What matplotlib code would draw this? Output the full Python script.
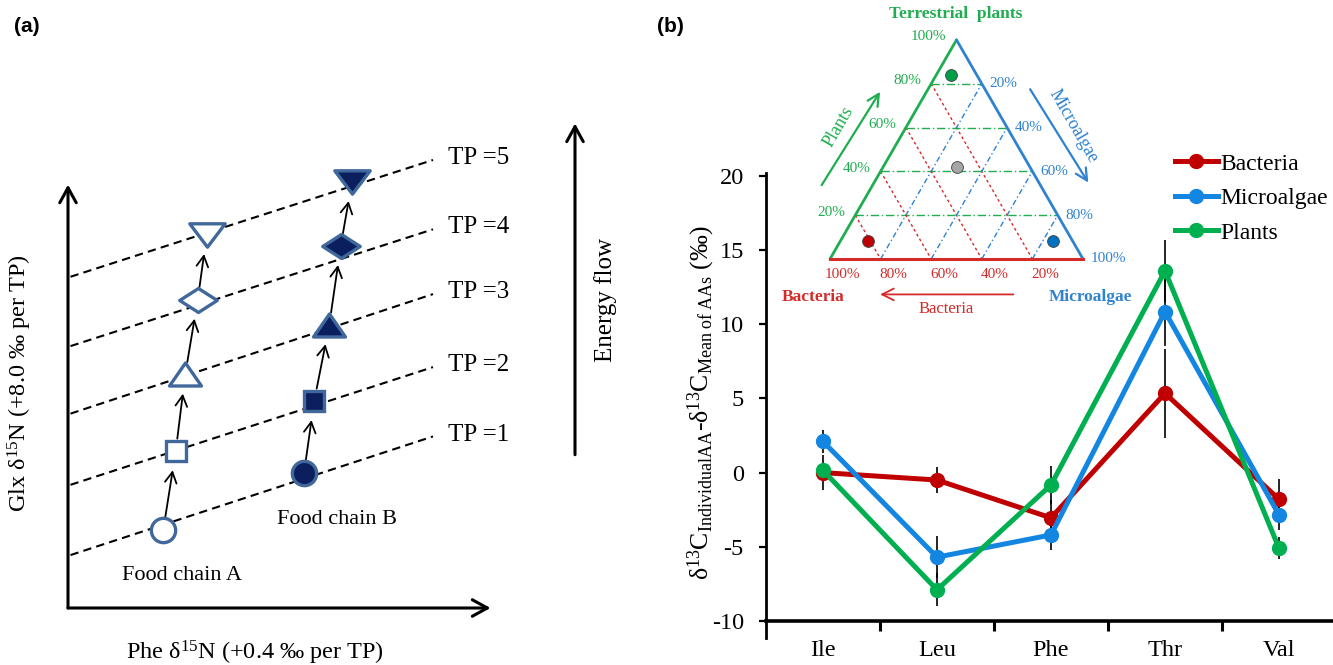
import matplotlib
matplotlib.use("Agg")
import matplotlib.pyplot as plt
from matplotlib.path import Path
import numpy as np

plt.rcParams['font.family'] = ['Liberation Serif', 'DejaVu Serif']
plt.rcParams['mathtext.fontset'] = 'custom'
plt.rcParams['mathtext.rm'] = 'Liberation Serif'
plt.rcParams['mathtext.it'] = 'Liberation Serif:italic'
plt.rcParams['axes.unicode_minus'] = False

# ---------------- data: panel (a) schematic ----------------
tp_levels = [1, 2, 3, 4, 5]
iso_phe = [0.1, 14.6]                       # start / end of isolines
iso_glx_start = [5.8, 13.5, 21.3, 28.7, 36.3]
iso_glx_end = [18.8, 26.4, 34.4, 41.5, 49.1]

chainA_phe = [3.81, 4.31, 4.69, 5.19, 5.55]
chainA_glx = [8.55, 17.2, 25.6, 33.8, 40.9]
chainB_phe = [9.44, 9.85, 10.45, 10.91, 11.36]
chainB_glx = [14.8, 22.7, 31.0, 39.7, 46.7]

# ---------------- data: panel (b) ----------------
amino = ['Ile', 'Leu', 'Phe', 'Thr', 'Val']
bacteria = [0.0, -0.5, -3.05, 5.35, -1.8]
microalgae = [2.1, -5.7, -4.2, 10.85, -2.85]
plants = [0.15, -7.9, -0.83, 13.6, -5.1]
bacteria_err = [1.2, 0.9, 1.2, 3.0, 1.35]
microalgae_err = [0.8, 1.4, 1.0, 2.3, 1.0]
plants_err = [0.5, 1.1, 1.3, 2.1, 0.75]
yticks_b = [-10, -5, 0, 5, 10, 15, 20]

# ternary inset: fractions (bacteria, microalgae, plants)
tern_bac = [0.81, 0.08, 0.10, 0.29]
tern_mic = [0.11, 0.84, 0.06, 0.29]
tern_pla = [0.08, 0.08, 0.84, 0.42]
tern_col = ['#c00000', '#0070c0', '#00a046', '#a6a6a6']
grid_levels = [0.2, 0.4, 0.6, 0.8]

red = '#c00000'
blue = '#1386e2'
green = '#00b050'
t_red = '#d42a2a'
t_blue = '#2f82d0'
t_green = '#1fae4f'

W, H = 1333, 665
fig = plt.figure(figsize=(W / 100, H / 100), dpi=100)

# =============== panel (a) ===============
ax_a = fig.add_axes([0, 0, 660 / W, 1])
ax_a.set_xlim(-68 / 25, (660 - 68) / 25)
ax_a.set_ylim((608 - 665) / 9.125, 608 / 9.125)
ax_a.axis('off')

axis_kw = dict(arrowstyle='->,head_length=0.6,head_width=0.33', lw=2.2,
               color='k', shrinkA=0, shrinkB=0, mutation_scale=18)
ax_a.annotate('', xy=(0, 46.4), xytext=(0, 0), arrowprops=axis_kw)
ax_a.annotate('', xy=(16.9, 0), xytext=(0, 0), arrowprops=axis_kw)
ax_a.annotate('', xy=(20.28, 53.1), xytext=(20.28, 16.8), arrowprops=axis_kw)

for tp, g0, g1 in zip(tp_levels, iso_glx_start, iso_glx_end):
    ln, = ax_a.plot(iso_phe, [g0, g1], color='k', lw=1.5, zorder=1)
    ln.set_dashes((4, 2.5))
    ax_a.text(15.2, g1 + 0.2, f'TP ={tp}', fontsize=18, ha='left', va='center')

def poly_marker(verts):
    verts = verts + [verts[0]]
    return Path(verts, closed=True)

m_tri_up = poly_marker([(-1, -0.72), (1, -0.72), (0, 0.72)])
m_tri_dn = poly_marker([(-1, 0.66), (1, 0.66), (0, -0.66)])
m_diam = poly_marker([(-1, 0), (0, 0.64), (1, 0), (0, -0.64)])
marker_set = [('o', 17.5), ('s', 14.5), (m_tri_up, 23), (m_diam, 27), (m_tri_dn, 25.5)]

edge_c = '#41689b'
navy = '#0b1f5e'
for xs, ys, face in [(chainA_phe, chainA_glx, 'white'), (chainB_phe, chainB_glx, navy)]:
    for k in range(len(xs)):
        mk, ms = marker_set[k]
        ax_a.plot(xs[k], ys[k], marker=mk, ms=ms, mfc=face, mec=edge_c,
                  mew=2.4, ls='none', zorder=3, clip_on=False)
    for k in range(len(xs) - 1):
        ax_a.annotate('', xy=(xs[k + 1], ys[k + 1]), xytext=(xs[k], ys[k]),
                      arrowprops=dict(arrowstyle='->,head_length=0.55,head_width=0.3',
                                      lw=1.3, color='k', shrinkA=9, shrinkB=14,
                                      mutation_scale=14), zorder=2)

ax_a.text(4.56, 3.6, 'Food chain A', fontsize=16, ha='center', va='center')
ax_a.text(10.75, 9.7, 'Food chain B', fontsize=16, ha='center', va='center')
ax_a.text(7.48, -4.93, 'Phe δ$^{15}$N (+0.4 ‰ per TP)', fontsize=17.5,
          ha='center', va='center')
ax_a.text(-1.92, 24.66, 'Glx δ$^{15}$N (+8.0 ‰ per TP)', fontsize=17.5,
          ha='center', va='center', rotation=90)
ax_a.text(21.52, 33.75, 'Energy flow', fontsize=18, ha='center', va='center',
          rotation=90)

fig.text(26.7 / W, 1 - 26.7 / H, '(a)', fontsize=15, fontweight='bold',
         family='Liberation Sans', ha='center', va='center')
fig.text(670 / W, 1 - 27 / H, '(b)', fontsize=15, fontweight='bold',
         family='Liberation Sans', ha='center', va='center')

# =============== panel (b) ===============
ax_b = fig.add_axes([766 / W, (H - 638) / H, 570 / W, (638 - 173) / H])
xpos = np.arange(len(amino))
for vals, errs, col, name in [(bacteria, bacteria_err, red, 'Bacteria'),
                              (microalgae, microalgae_err, blue, 'Microalgae'),
                              (plants, plants_err, green, 'Plants')]:
    ax_b.errorbar(xpos, vals, yerr=errs, fmt='none', ecolor='k',
                  elinewidth=1.2, capsize=0, zorder=2)
    ax_b.plot(xpos, vals, '-o', color=col, lw=3.6, ms=10, zorder=3, label=name)

ax_b.set_xlim(-0.5, 4.5)
ax_b.set_ylim(-11.15, 20.2)
ax_b.spines[['top', 'right']].set_visible(False)
ax_b.spines['bottom'].set_position(('data', -10))
ax_b.spines['bottom'].set_linewidth(2.6)
ax_b.spines['left'].set_linewidth(2.0)
ax_b.set_xticks(xpos[:-1] + 0.5)
ax_b.set_xticklabels([])
ax_b.set_xticks(xpos, minor=True)
ax_b.set_xticklabels(amino, minor=True, fontsize=17.5)
ax_b.tick_params(axis='x', which='major', length=7, width=2.2, direction='out')
ax_b.tick_params(axis='x', which='minor', length=0, pad=14)
ax_b.set_yticks(yticks_b, labels=[str(v) for v in yticks_b], fontsize=17.5)
ax_b.tick_params(axis='y', length=5, width=1.6, pad=11)

fig.text(701 / W, 1 - 403 / H,
         'δ$^{13}$C$_{\\mathrm{IndividualAA}}$-δ$^{13}$C$_{\\mathrm{Mean\\ of\\ AAs}}$ (‰)',
         fontsize=18.5, rotation=90, ha='center', va='center')

ax_b.legend(loc='upper left', bbox_to_anchor=(1175 / W, 1 - 153 / H),
            bbox_transform=fig.transFigure, frameon=False, fontsize=17,
            borderpad=0, borderaxespad=0, handlelength=1.82,
            handletextpad=0.1, labelspacing=0.55)

# =============== ternary inset ===============
S = 253.0
ax_t = fig.add_axes([760 / W, (H - 320) / H, 370 / W, 320 / H])
ax_t.set_xlim(-70 / S, 300 / S)
ax_t.set_ylim((259 - 320) / S, 259 / S)
ax_t.axis('off')
ax_t.patch.set_alpha(0)
ax_t.set_zorder(5)

r3 = np.sqrt(3) / 2

def txy(b, m, p):
    return m + p / 2, p * r3

for lv in grid_levels:
    # plants = const (green), bacteria = const (red), microalgae = const (blue)
    x0, y0 = txy(1 - lv, 0, lv)
    x1, y1 = txy(0, 1 - lv, lv)
    ln, = ax_t.plot([x0, x1], [y0, y1], color=t_green, lw=1.0)
    ln.set_dashes((6, 2, 1, 2))
    x0, y0 = txy(lv, 0, 1 - lv)
    x1, y1 = txy(lv, 1 - lv, 0)
    ln, = ax_t.plot([x0, x1], [y0, y1], color=t_red, lw=1.0)
    ln.set_dashes((2, 2))
    x0, y0 = txy(1 - lv, lv, 0)
    x1, y1 = txy(0, lv, 1 - lv)
    ln, = ax_t.plot([x0, x1], [y0, y1], color=t_blue, lw=1.0)
    ln.set_dashes((4, 2, 1, 2))

ax_t.plot([0, 0.5], [0, r3], color=t_green, lw=2.0, solid_capstyle='round')
ax_t.plot([0.5, 1], [r3, 0], color=t_blue, lw=2.0, solid_capstyle='round')
ax_t.plot([0, 1], [0, 0], color=t_red, lw=2.2)

for b, m, p, c in zip(tern_bac, tern_mic, tern_pla, tern_col):
    x, y = txy(b, m, p)
    ax_t.plot(x, y, 'o', ms=8.5, mfc=c, mec='#404040', mew=0.6, zorder=6)

for lv in grid_levels + [1.0]:
    pct = f'{int(round(lv * 100))}%'
    x, y = txy(1 - lv, 0, lv)
    ax_t.text(x - 0.04, y + 0.012, pct, color=t_green, fontsize=11,
              ha='right', va='center')
    x, y = txy(0, lv, 1 - lv)
    ax_t.text(x + 0.03, y, pct, color=t_blue, fontsize=11, ha='left', va='center')
    x, y = txy(lv, 1 - lv, 0)
    ax_t.text(x + 0.05, -0.06, pct, color=t_red, fontsize=11,
              ha='center', va='center')

ax_t.text(0.497, 0.968, 'Terrestrial  plants', color=t_green, fontsize=12.5,
          fontweight='bold', ha='center', va='center')
ax_t.text(-0.066, -0.149, 'Bacteria', color=t_red, fontsize=12.5,
          fontweight='bold', ha='center', va='center')
ax_t.text(1.031, -0.149, 'Microalgae', color=t_blue, fontsize=12.5,
          fontweight='bold', ha='center', va='center')
ax_t.text(0.461, -0.198, 'Bacteria', color=t_red, fontsize=12,
          ha='center', va='center')
ax_t.text(0.033, 0.523, 'Plants', color=t_green, fontsize=13,
          ha='center', va='center', rotation=60)
ax_t.text(0.962, 0.523, 'Microalgae', color=t_blue, fontsize=13,
          ha='center', va='center', rotation=-60)

small_arrow = '->,head_length=0.7,head_width=0.35'
ax_t.annotate('', xy=(0.198, -0.14), xytext=(0.725, -0.14),
              arrowprops=dict(arrowstyle=small_arrow, color=t_red, lw=1.3,
                              shrinkA=0, shrinkB=0, mutation_scale=12))
ax_t.annotate('', xy=(0.198, 0.661), xytext=(-0.033, 0.292),
              arrowprops=dict(arrowstyle=small_arrow, color=t_green, lw=1.6,
                              shrinkA=0, shrinkB=0, mutation_scale=12))
ax_t.annotate('', xy=(1.021, 0.302), xytext=(0.791, 0.671),
              arrowprops=dict(arrowstyle=small_arrow, color=t_blue, lw=1.6,
                              shrinkA=0, shrinkB=0, mutation_scale=12))

fig.savefig('out.png', dpi=100)
